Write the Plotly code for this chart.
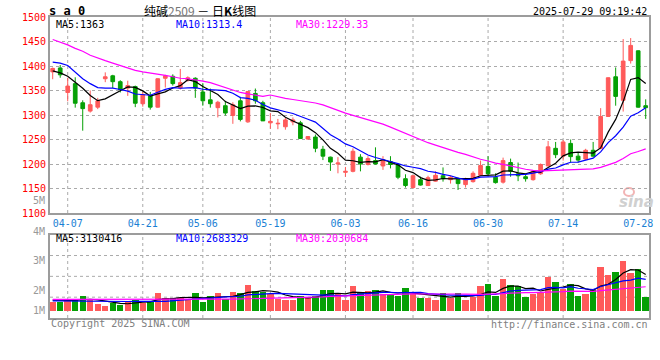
import plotly.graph_objects as go
import pandas as pd
import numpy as np

# ---------------- data ----------------
holidays = ["2025-04-04", "2025-05-01", "2025-05-02", "2025-05-05", "2025-06-02"]
trade_days = [d for d in pd.bdate_range("2025-04-02", "2025-07-29") if d.strftime("%Y-%m-%d") not in holidays]
dates = [d.strftime("%m-%d") for d in trade_days]

opens = [1388, 1396, 1346, 1364, 1325, 1308, 1316, 1374, 1380, 1368,
         1355, 1358, 1323, 1339, 1316, 1375, 1379, 1355, 1371, 1375,
         1347, 1331, 1315, 1319, 1299, 1329, 1286, 1344, 1325, 1284,
         1282, 1276, 1286, 1284, 1251, 1255, 1230, 1214, 1200, 1183,
         1185, 1214, 1199, 1207, 1196, 1205, 1199, 1170, 1152, 1168,
         1156, 1165, 1176, 1168, 1169, 1158, 1164, 1177, 1195, 1173,
         1163, 1203, 1180, 1174, 1168, 1180, 1196, 1232, 1216, 1242,
         1216, 1210, 1228, 1232, 1297, 1378, 1330, 1411, 1431, 1319]
highs = [1397, 1402, 1376, 1377, 1330, 1350, 1335, 1387, 1382, 1371,
         1370, 1360, 1347, 1347, 1375, 1382, 1383, 1394, 1379, 1377,
         1365, 1354, 1329, 1329, 1326, 1337, 1349, 1354, 1329, 1304,
         1292, 1294, 1295, 1288, 1257, 1260, 1237, 1215, 1214, 1194,
         1232, 1220, 1216, 1234, 1216, 1216, 1201, 1179, 1177, 1174,
         1176, 1185, 1193, 1176, 1173, 1172, 1185, 1207, 1216, 1181,
         1213, 1211, 1203, 1178, 1187, 1201, 1247, 1245, 1249, 1250,
         1223, 1231, 1245, 1314, 1377, 1397, 1455, 1457, 1432, 1332]
lows = [1373, 1376, 1328, 1315, 1268, 1305, 1312, 1367, 1355, 1346,
        1339, 1316, 1317, 1311, 1315, 1356, 1360, 1352, 1368, 1335,
        1319, 1315, 1295, 1299, 1282, 1287, 1284, 1323, 1288, 1272,
        1271, 1270, 1279, 1251, 1250, 1224, 1208, 1186, 1181, 1174,
        1183, 1185, 1197, 1199, 1188, 1191, 1169, 1152, 1150, 1156,
        1155, 1164, 1164, 1160, 1147, 1152, 1162, 1176, 1176, 1160,
        1160, 1174, 1165, 1164, 1166, 1178, 1196, 1212, 1207, 1203,
        1203, 1208, 1215, 1230, 1296, 1319, 1307, 1405, 1315, 1292]
closes = [1395, 1382, 1359, 1324, 1313, 1321, 1329, 1378, 1368, 1352,
          1360, 1324, 1342, 1316, 1374, 1380, 1364, 1366, 1376, 1355,
          1329, 1323, 1326, 1304, 1321, 1291, 1348, 1329, 1288, 1287,
          1283, 1290, 1290, 1252, 1256, 1232, 1216, 1204, 1202, 1185,
          1226, 1200, 1211, 1200, 1208, 1199, 1173, 1156, 1176, 1157,
          1172, 1177, 1170, 1173, 1160, 1169, 1181, 1197, 1180, 1162,
          1207, 1185, 1176, 1170, 1185, 1199, 1235, 1219, 1245, 1215,
          1208, 1228, 1216, 1297, 1376, 1338, 1410, 1442, 1316, 1315]
# volume in millions
volumes_m = [0.80, 0.80, 0.91, 0.91, 1.31, 0.97, 0.57, 0.40, 0.69, 0.51,
             0.80, 0.97, 0.69, 0.80, 1.51, 1.09, 1.09, 1.14, 0.94, 1.51,
             0.80, 1.26, 1.51, 1.03, 1.60, 1.51, 2.20, 1.69, 1.60, 1.43,
             1.03, 0.97, 0.97, 1.31, 1.20, 1.31, 1.77, 1.77, 1.43, 0.91,
             2.11, 1.51, 1.69, 1.77, 1.43, 1.43, 1.26, 1.94, 1.43, 1.09,
             1.09, 0.97, 1.51, 1.14, 1.51, 0.97, 1.20, 2.11, 2.29, 1.26,
             2.71, 2.20, 2.11, 1.20, 1.43, 1.51, 2.89, 2.46, 1.86, 2.29,
             1.26, 1.49, 1.77, 3.74, 3.06, 3.31, 4.26, 3.23, 3.57, 1.17]

# moving-average values at the left edge (window starts before the chart)
ma5_head = [1390, 1386, 1379, 1367]
ma10_head = [1408, 1406, 1401, 1387, 1374, 1364, 1356, 1355, 1355]
ma30_head = [1454, 1449, 1443, 1436, 1430, 1422, 1416, 1411, 1406, 1401,
             1396, 1391, 1388, 1386, 1384, 1381, 1378, 1375, 1374, 1372,
             1369, 1366, 1361, 1356, 1350, 1346, 1343, 1340, 1338]
vma5_head = [0.90, 0.88, 0.86, 0.88]
vma10_head = [0.84, 0.83, 0.83, 0.83, 0.84, 0.83, 0.82, 0.80, 0.80]
vma30_head = [0.97, 0.97, 0.96, 0.96, 0.96, 0.95, 0.95, 0.94, 0.94, 0.93,
              0.93, 0.93, 0.93, 0.93, 0.94, 0.94, 0.95, 0.95, 0.95, 0.96,
              0.96, 0.97, 0.98, 0.99, 1.00, 1.01, 1.03, 1.05, 1.07]

x_tick_labels = ["04-07", "04-21", "05-06", "05-19", "06-03", "06-16", "06-30", "07-14", "07-28"]
price_ticks = [1100, 1150, 1200, 1250, 1300, 1350, 1400, 1450, 1500]
vol_axis_labels = ["5M", "4M", "3M", "2M", "1M"]

title_text = "纯碱<span style='color:#777'>2509</span> － 日<b>K</b>线图"
symbol_text = "<b>s a 0</b>"
time_text = "2025-07-29 09:19:42"
ma_texts = ["MA5:1363", "MA10:1313.4", "MA30:1229.33"]
vma_texts = ["MA5:3130416", "MA10:2683329", "MA30:2030684"]

# ---------------- styling ----------------
RED = "#ff5a5a"
GREEN = "#05a005"
MONO = "DejaVu Sans Mono"
GRID = "#aaaaaa"
BORDER = "#9c9c9c"
MA_COLORS = ["#000000", "#0000ff", "#ff00ff"]


def moving_average(values, n, head):
    s = pd.Series(values, dtype=float).rolling(n).mean()
    s.iloc[: n - 1] = head
    return s.tolist()


idx = list(range(len(dates)))
ma_lines = [moving_average(closes, 5, ma5_head),
            moving_average(closes, 10, ma10_head),
            moving_average(closes, 30, ma30_head)]
vma_lines = [moving_average(volumes_m, 5, vma5_head),
             moving_average(volumes_m, 10, vma10_head),
             moving_average(volumes_m, 30, vma30_head)]
vol_colors = [RED if c >= o else GREEN for o, c in zip(opens, closes)]

fig = go.Figure()
fig.add_trace(go.Candlestick(
    x=idx, open=opens, high=highs, low=lows, close=closes,
    increasing=dict(line=dict(color=RED, width=1), fillcolor=RED),
    decreasing=dict(line=dict(color=GREEN, width=1), fillcolor=GREEN),
    whiskerwidth=0, xaxis="x", yaxis="y", showlegend=False, hoverinfo="skip"))
for ma, col in zip(ma_lines, MA_COLORS):
    fig.add_trace(go.Scatter(x=idx, y=ma, mode="lines", line=dict(color=col, width=1.2),
                             xaxis="x", yaxis="y", showlegend=False, hoverinfo="skip"))

fig.add_trace(go.Bar(x=idx, y=volumes_m, marker=dict(color=vol_colors, line=dict(width=0)),
                     width=0.86, xaxis="x2", yaxis="y2", showlegend=False, hoverinfo="skip"))
for ma, col in zip(vma_lines, MA_COLORS):
    fig.add_trace(go.Scatter(x=idx, y=ma, mode="lines", line=dict(color=col, width=1.2),
                             xaxis="x2", yaxis="y2", showlegend=False, hoverinfo="skip"))

# ---------------- layout ----------------
L, R, T, B = 50, 11, 17, 42
W, H = 660, 360
PW, PH = W - L - R, H - T - B
main_bottom_px, vol_top_px, vol_base_px = 213, 234.7, 310.7
px_per_m = 11.67


def px(X, Y):
    return (X - L) / PW, (H - B - Y) / PH


main_domain = [(H - B - main_bottom_px) / PH, 1]
vol_domain = [0, (H - B - vol_top_px) / PH]
vol_range = [-((H - B) - vol_base_px) / px_per_m, (vol_base_px - vol_top_px) / px_per_m]

tick_idx = [dates.index(t) for t in x_tick_labels]
xr = [-0.36, 79.44]

axis_common = dict(showline=True, mirror=True, linecolor=BORDER, linewidth=2,
                   zeroline=False, automargin=False, fixedrange=True)

fig.update_layout(
    width=W, height=H, margin=dict(l=L, r=R, t=T, b=B),
    paper_bgcolor="white", plot_bgcolor="white",
    bargap=0, showlegend=False,
    font=dict(family=MONO, size=10, color="#000"),
    xaxis=dict(domain=[0, 1], anchor="y", range=xr, tickmode="array",
               tickvals=tick_idx, ticktext=x_tick_labels, showgrid=False, ticks="",
               tickfont=dict(family=MONO, size=10, color="#1a7fd4"),
               rangeslider=dict(visible=False), **axis_common),
    yaxis=dict(domain=main_domain, anchor="x", range=[1100, 1500], tickmode="array",
               tickvals=price_ticks, ticktext=[str(v) for v in price_ticks],
               showgrid=True, gridcolor=GRID, griddash="dot", gridwidth=1, ticks="",
               tickfont=dict(family=MONO, size=10, color="#ff0000"), **axis_common),
    xaxis2=dict(domain=[0, 1], anchor="y2", range=xr, showticklabels=False,
                showgrid=False, ticks="", matches="x", **axis_common),
    yaxis2=dict(domain=vol_domain, anchor="x2", range=vol_range, showticklabels=False,
                showgrid=False, ticks="", **axis_common),
)

shapes = []
# vertical grid lines at labelled dates (last label sits on the border)
for t in tick_idx[:-1]:
    for yref in ("y domain", "y2 domain"):
        shapes.append(dict(type="line", xref="x", yref=yref, x0=t, x1=t, y0=0, y1=1,
                           line=dict(color=GRID, width=1, dash="dot"), layer="below"))
# horizontal grid lines of the volume panel (quarters of the panel)
for f in (0.25, 0.5, 0.75):
    shapes.append(dict(type="line", xref="x2 domain", yref="y2 domain", x0=0, x1=1, y0=f, y1=f,
                       line=dict(color=GRID, width=1, dash="dot"), layer="below"))
# sina watermark eye
ex0, ey0 = px(624, 188)
ex1, ey1 = px(634, 196)
shapes.append(dict(type="circle", xref="paper", yref="paper", x0=ex0, x1=ex1, y0=ey1, y1=ey0,
                   line=dict(color="#f2b4b4", width=2), fillcolor="rgba(0,0,0,0)", layer="below"))
fig.update_layout(shapes=shapes)

annotations = []


def ann(text, X, Y, xanchor="left", color="#000", size=10, family=MONO, **kw):
    xp, yp = px(X, Y)
    annotations.append(dict(text=text, x=xp, y=yp, xref="paper", yref="paper",
                            xanchor=xanchor, yanchor="middle", showarrow=False,
                            font=dict(family=family, size=size, color=color), **kw))


ann(symbol_text, 47, 11, size=12)
ann(title_text, 200, 10.5, xanchor="center", size=12, family="Noto Sans CJK SC")
ann(time_text, 649, 11.5, xanchor="right", size=10)
for text, X, col in zip(ma_texts, [54, 174, 294], MA_COLORS):
    ann(text, X, 24.5, color=col)
for text, X, col in zip(vma_texts, [54, 174, 294], MA_COLORS):
    ann(text, X, 238.5, color=col)
for text, Y in zip(vol_axis_labels, [200.5, 231, 260.5, 290.5, 310.5]):
    ann(text, 47, Y, xanchor="right", color="#999999")
ann("Copyright 2025 SINA.COM", 49, 323.5, color="#808080")
ann("http://finance.sina.com.cn", 649.5, 324, xanchor="right", color="#808080")
ann("<b><i>sina</i></b>", 636, 202, xanchor="center", color="#d0d0d0", size=15, family="DejaVu Sans")
fig.update_layout(annotations=annotations)

fig.write_html("out.html", config={"displayModeBar": False},
               post_script="document.body.style.margin='0px';document.body.style.padding='0px';")
